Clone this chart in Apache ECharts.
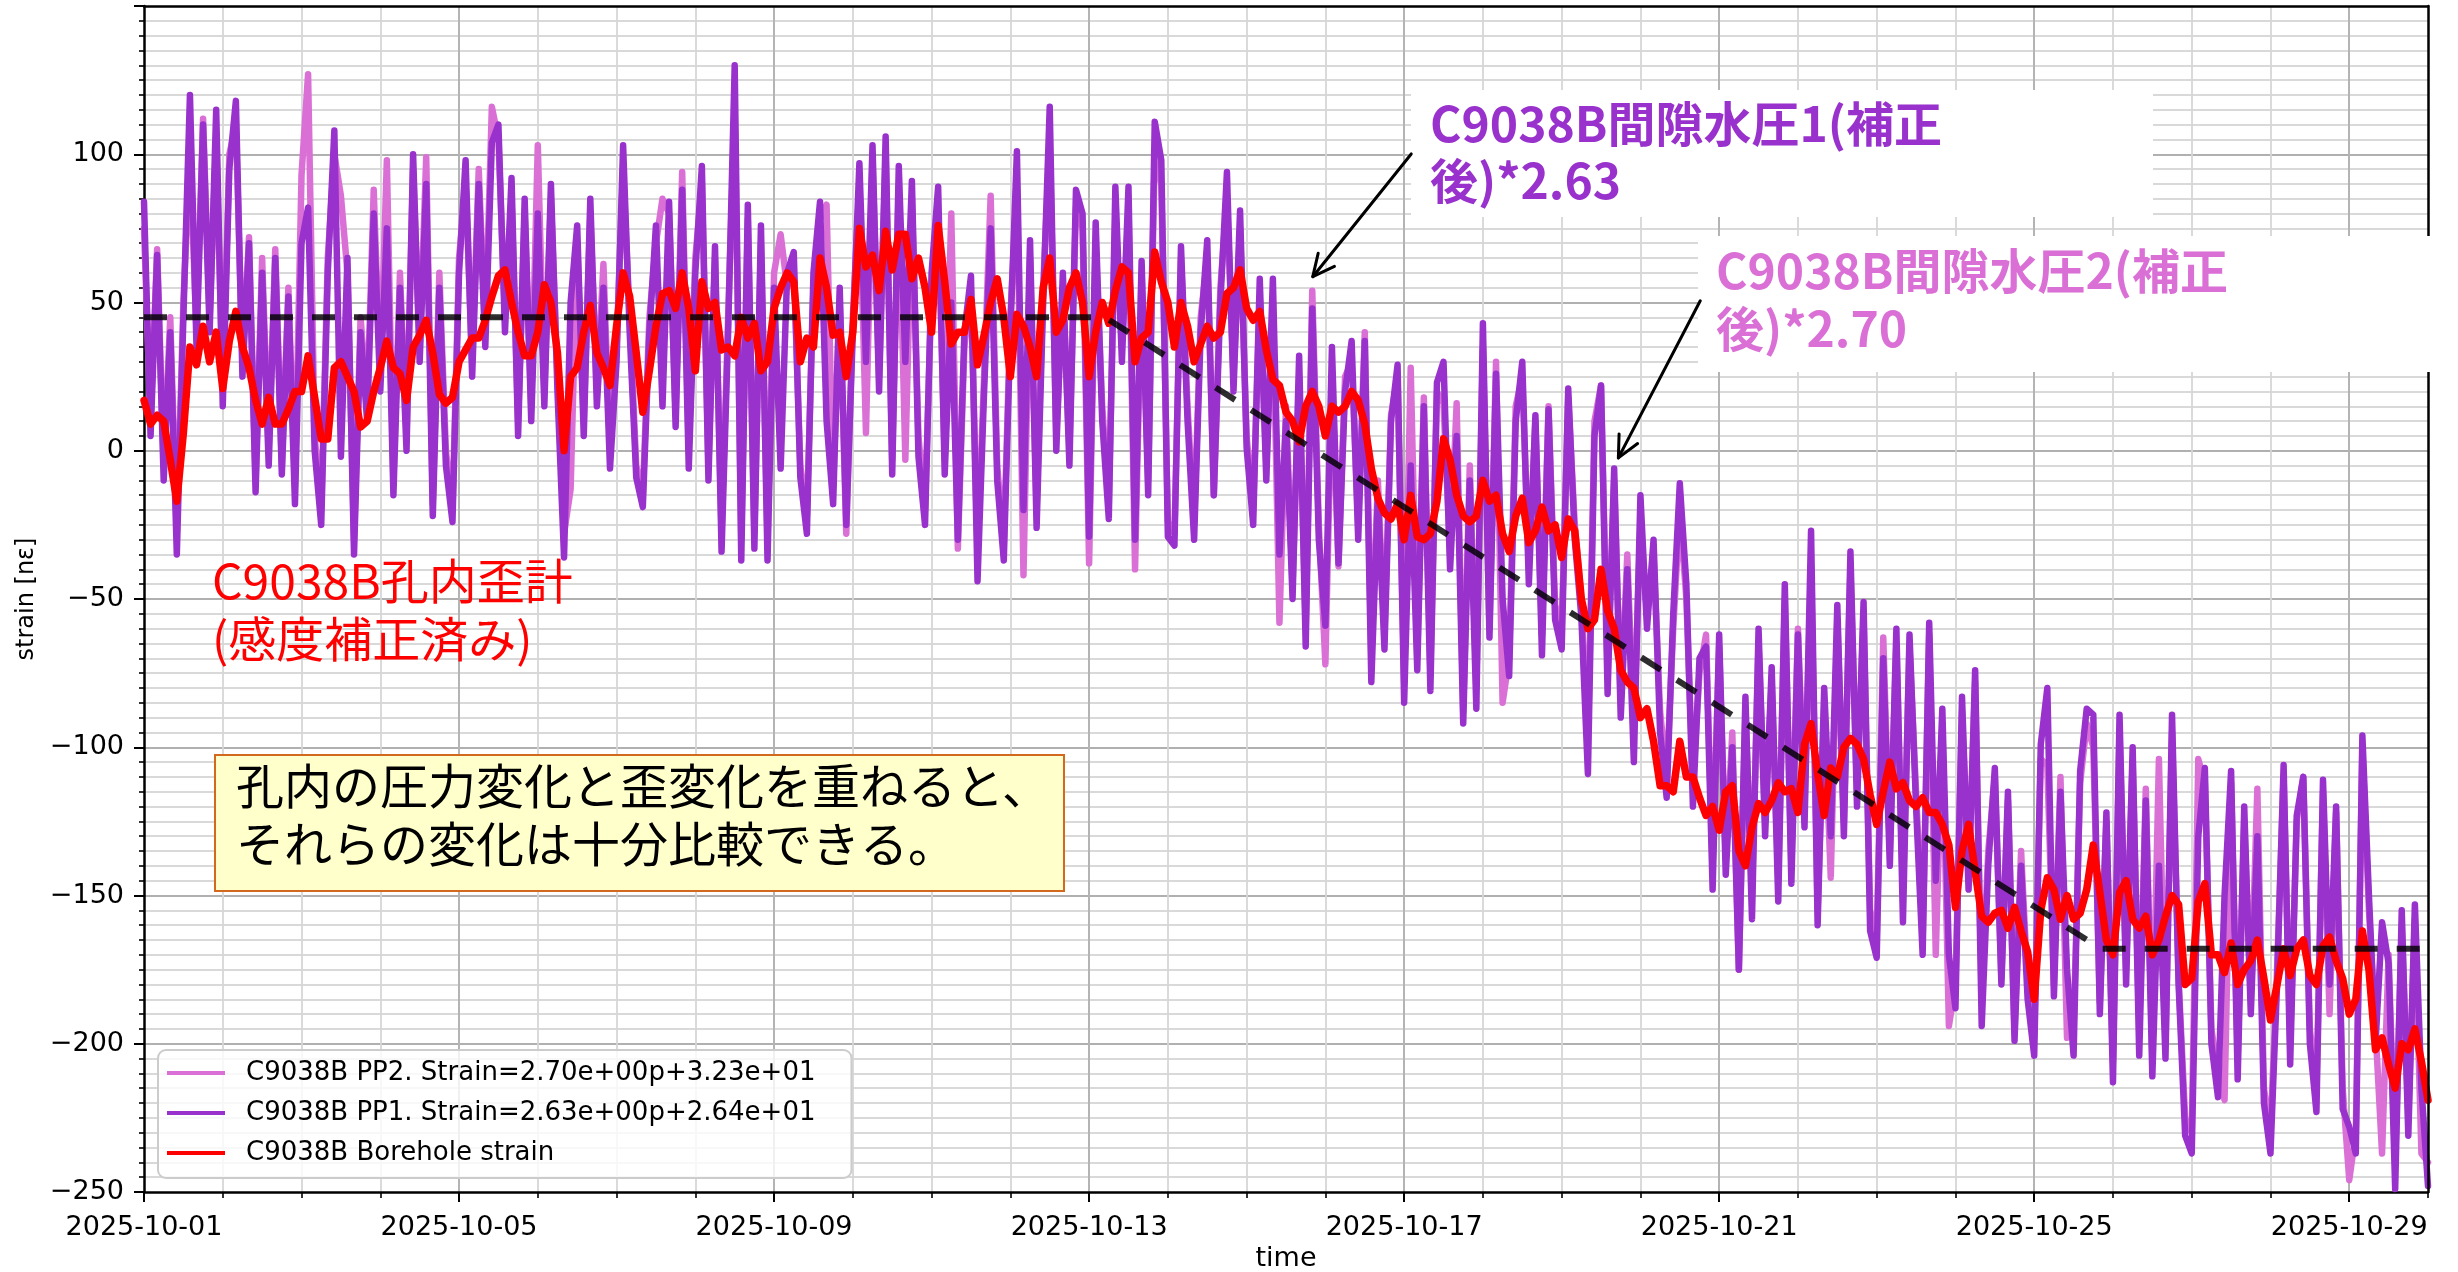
<!DOCTYPE html>
<html>
<head>
<meta charset="utf-8">
<script src="https://cdn.jsdelivr.net/npm/echarts@6/dist/echarts.min.js"></script>
<style>
html,body{margin:0;padding:0;background:#fff;}
#chart{width:2458px;height:1272px;}
</style>
</head>
<body>
<div id="chart"></div>
<script>
// ---- data ----
const START_UTC = Date.UTC(2025, 9, 1);   // 2025-10-01 00:00
const STEP_HOURS = 2;                      // sample spacing of the series below
const X_MAX_DAYS = 29;
const X_MAJOR_DAYS = 4;
const Y_MIN = -250, Y_MAX = 150, Y_STEP = 50;

const NAME_PP2 = 'C9038B PP2. Strain=2.70e+00p+3.23e+01';
const NAME_PP1 = 'C9038B PP1. Strain=2.63e+00p+2.64e+01';
const NAME_BH  = 'C9038B Borehole strain';

const boreholeStrain = [
17,9,12,10,-3,-17,6,35,29,42,30,40,21,37,47,35,28,17,9,18,9,9,14,20,20,32,18,4,4,28,30,25,20,8,10,20,28,37,28,26,17,35,39,44,33,19,16,18,30,34,38,38,44,52,59,61,50,40,32,32,
40,56,50,33,0,25,28,40,49,33,28,22,42,60,52,33,13,27,42,53,54,48,60,48,27,57,48,50,34,35,32,45,38,43,27,30,48,55,60,57,30,38,35,65,55,39,40,25,40,75,62,66,54,74,61,73,73,58,65,
55,40,76,57,36,40,40,51,29,39,50,58,45,25,46,42,35,25,55,65,40,44,55,60,50,25,40,50,43,54,62,60,30,38,40,67,57,50,35,50,42,30,36,42,38,40,53,55,61,48,44,47,34,24,22,13,10,3,15,
20,15,5,15,13,15,20,17,9,-6,-16,-21,-23,-18,-30,-15,-29,-30,-28,-17,4,-3,-15,-22,-24,-22,-10,-17,-15,-28,-34,-22,-16,-31,-27,-19,-27,-25,-36,-23,-27,-50,-60,-57,-40,-54,-60,-74,-78,-80,-90,-87,-98,-113,-113,-115,-98,-110,-110,-117,
-123,-120,-128,-115,-113,-135,-140,-127,-119,-122,-118,-112,-115,-114,-122,-99,-92,-109,-123,-107,-110,-100,-97,-99,-104,-116,-126,-115,-105,-114,-112,-118,-120,-117,-122,-122,-126,-133,-154,-135,-126,-142,-157,-159,-156,-155,-161,-154,-162,-169,-185,-155,-144,-148,-158,-150,-158,-156,-148,
-133,-149,-165,-170,-149,-145,-158,-161,-157,-170,-165,-157,-150,-153,-180,-178,-152,-146,-170,-170,-176,-166,-180,-175,-172,-165,-178,-192,-180,-168,-177,-168,-165,-177,-180,-167,-164,-172,-178,-190,-185,-162,-175,-202,-198,-207,-215,-200,-202,-195,-206,-219
];

const pp1Strain = [
84,5,66,-10,40,-35,45,120,35,110,40,115,15,95,118,25,70,-14,60,-5,65,-8,52,-18,70,82,0,-25,60,108,-2,65,-35,40,10,80,20,75,-15,55,0,100,30,90,-22,55,-5,-24,60,98,25,90,35,104,110,40,92,5,85,10,
80,15,90,20,-36,50,76,5,85,15,55,-6,30,103,40,-9,-19,40,76,15,84,8,88,-6,60,96,-10,69,-34,40,130,-37,83,-33,76,-37,55,-6,60,67,-9,-28,60,84,10,-18,55,-25,40,97,30,103,20,106,-8,96,30,91,-2,
-25,60,89,-8,50,-30,40,59,-44,20,75,-10,-37,40,101,-20,71,-26,50,116,0,60,-5,88,80,-29,77,10,-23,89,30,89,-30,64,-15,111,98,-29,-32,69,10,-30,40,71,-15,50,94,20,81,1,-25,58,-10,58,-35,10,-50,32,-66,
48,-30,-59,35,-38,20,37,-30,37,-78,-15,-67,10,29,-85,-5,-74,15,-81,23,30,-40,5,-92,-10,-87,43,-63,26,-50,-76,10,30,-45,12,-69,14,-57,-67,21,-30,-56,-109,5,22,-82,-6,-90,-40,-105,-15,-60,-30,-95,-117,-55,-11,-45,-120,-70,
-66,-148,-62,-143,-100,-175,-83,-158,-60,-130,-73,-152,-45,-146,-62,-127,-27,-160,-80,-130,-52,-130,-34,-120,-51,-162,-171,-70,-140,-60,-159,-62,-120,-170,-58,-145,-87,-170,-188,-83,-148,-74,-194,-140,-107,-180,-115,-199,-140,-185,-204,-99,-80,-184,-115,-175,-204,-108,-87,
-89,-190,-122,-213,-89,-180,-100,-204,-118,-211,-140,-205,-89,-180,-231,-237,-130,-107,-200,-218,-150,-108,-212,-120,-190,-130,-220,-237,-180,-106,-207,-123,-110,-200,-223,-111,-180,-120,-222,-228,-237,-96,-150,-200,-159,-173,-249,-155,-231,-153,-215,-248
];

const pp2Strain = [
75,10,68,-5,45,-28,50,100,40,112,45,105,20,100,110,30,72,-10,65,0,68,-5,55,-12,93,127,5,-20,65,100,86,60,-30,45,15,88,25,98,-10,60,5,95,35,99,-18,60,0,-20,65,90,30,95,40,116,105,45,85,10,80,15,
103,20,85,25,-28,-13,70,10,80,20,63,0,35,95,45,-5,-15,45,70,85,80,12,94,0,65,90,-5,65,-28,45,115,-30,78,-28,70,-30,60,73,55,62,-5,-22,55,78,83,-12,50,-28,45,90,6,98,25,100,-3,90,-3,85,5,
-20,55,80,-3,80,-33,35,55,-35,25,86,-5,-32,45,90,-42,65,-20,55,105,5,55,0,82,75,-38,70,15,-18,80,35,82,-40,60,-10,100,90,-24,-28,65,15,-25,45,65,-15,55,85,25,75,5,-20,52,-5,50,-58,15,-45,25,-60,
54,-25,-72,25,-39,25,30,-25,40,-70,-10,-62,12,25,-78,28,-70,18,-75,20,16,-35,16,-88,-5,-80,35,-60,30,-85,-70,15,25,-40,10,-62,15,-52,-60,18,-25,-50,-100,10,22,-75,-10,-85,-35,-95,-24,-55,-35,-88,-110,-60,-20,-50,-112,-75,
-62,-140,-66,-138,-95,-175,-88,-150,-65,-125,-78,-145,-50,-140,-60,-120,-40,-155,-85,-144,-57,-125,-40,-115,-56,-155,-165,-63,-135,-65,-150,-66,-115,-165,-62,-170,-92,-194,-180,-88,-145,-78,-185,-135,-110,-178,-118,-196,-135,-180,-198,-104,-106,-180,-110,-198,-195,-112,-92,
-100,-186,-125,-206,-95,-175,-105,-196,-114,-205,-104,-200,-95,-178,-225,-230,-104,-112,-195,-210,-219,-112,-205,-125,-185,-114,-215,-230,-175,-110,-200,-125,-110,-195,-215,-115,-190,-122,-215,-246,-230,-100,-155,-195,-237,-170,-240,-160,-225,-158,-237,-240
];

// dashed trend guide: [day offset, strain]
const trendDays   = [0, 12.2, 24.85, 29];
const trendValues = [45, 45, -168, -168];

// annotation arrows in data units [day offset, strain]
const arrow1 = { from: [16.09, 100.1], to: [14.84, 58.7] };
const arrow2 = { from: [19.76, 50.6],  to: [18.72, -2.4] };

// ---- build ----
const toXY = arr => arr.map((v, i) => [i * STEP_HOURS / 24, v]);
const pad2 = n => (n < 10 ? '0' : '') + n;
function dayLabel(v) {
  const d = new Date(START_UTC + v * 86400000);
  return d.getUTCFullYear() + '-' + pad2(d.getUTCMonth() + 1) + '-' + pad2(d.getUTCDate());
}
const FONT = 'DejaVu Sans';
const JP = '"Noto Sans CJK JP"';

const chart = echarts.init(document.getElementById('chart'), null, { renderer: 'canvas' });

const lineBase = { type: 'line', showSymbol: false, symbol: 'none', animation: false, xAxisIndex: 1, yAxisIndex: 0, clip: true };

chart.setOption({
  backgroundColor: '#ffffff',
  animation: false,
  textStyle: { fontFamily: FONT },
  grid: { left: 144, right: 30, top: 6, bottom: 80, outerBoundsMode: 'none', containLabel: false },
  legend: {
    orient: 'vertical', left: 158, top: 1050,
    data: [NAME_PP2, NAME_PP1, NAME_BH],
    icon: 'rect', itemWidth: 58, itemHeight: 4, itemGap: 10,
    padding: [8, 36, 10, 9],
    backgroundColor: 'rgba(255,255,255,0.8)', borderColor: '#cccccc', borderWidth: 2, borderRadius: 8,
    textStyle: { fontFamily: FONT, fontSize: 26, color: '#000', lineHeight: 30, padding: [0, 0, 0, 16] }
  },
  xAxis: [
    { // daily minor ticks + light gridlines
      type: 'value', position: 'bottom', min: 0, max: X_MAX_DAYS, interval: 1,
      axisLine: { show: false, onZero: false }, axisLabel: { show: false },
      axisTick: { show: true, inside: false, length: 6, lineStyle: { color: '#000', width: 1.6 } },
      splitLine: { show: true, showMinLine: false, showMaxLine: false, lineStyle: { color: '#d6d6d6', width: 1.8 } }
    },
    { // labelled major axis every 4 days
      type: 'value', position: 'bottom', min: 0, max: X_MAX_DAYS, interval: X_MAJOR_DAYS,
      name: 'time', nameLocation: 'middle', nameGap: 52,
      nameTextStyle: { fontFamily: FONT, fontSize: 27, color: '#000' },
      axisLine: { show: true, onZero: false, lineStyle: { color: '#000', width: 2.5 } },
      axisTick: { show: true, inside: false, length: 10, lineStyle: { color: '#000', width: 2 } },
      axisLabel: { show: true, margin: 22, fontFamily: FONT, fontSize: 27, color: '#000', showMaxLabel: false, formatter: dayLabel },
      splitLine: { show: true, showMinLine: false, showMaxLine: false, lineStyle: { color: '#b0b0b0', width: 1.8 } }
    },
    { // top frame
      type: 'value', position: 'top', min: 0, max: X_MAX_DAYS, z: 5,
      axisLine: { show: true, onZero: false, lineStyle: { color: '#000', width: 2.5 } },
      axisTick: { show: false }, axisLabel: { show: false }, splitLine: { show: false }
    }
  ],
  yAxis: [
    {
      type: 'value', position: 'left', min: Y_MIN, max: Y_MAX, interval: Y_STEP,
      name: 'strain [nε]', nameLocation: 'middle', nameGap: 104, nameRotate: 90,
      nameTextStyle: { fontFamily: FONT, fontSize: 24, color: '#000' },
      axisLine: { show: true, onZero: false, lineStyle: { color: '#000', width: 2.5 } },
      axisTick: { show: true, inside: false, length: 10, lineStyle: { color: '#000', width: 2 } },
      minorTick: { show: true, splitNumber: 10, length: 5, lineStyle: { color: '#000', width: 1.6 } },
      axisLabel: { show: true, margin: 20, fontFamily: FONT, fontSize: 27, color: '#000', showMaxLabel: false,
        formatter: v => String(v).replace('-', '\u2212') },
      splitLine: { show: true, showMinLine: false, showMaxLine: false, lineStyle: { color: '#b0b0b0', width: 1.8 } },
      minorSplitLine: { show: true, lineStyle: { color: '#d9d9d9', width: 1.8 } }
    },
    { // right frame
      type: 'value', position: 'right', min: Y_MIN, max: Y_MAX, z: 5,
      axisLine: { show: true, onZero: false, lineStyle: { color: '#000', width: 2.5 } },
      axisTick: { show: false }, axisLabel: { show: false }, splitLine: { show: false }
    }
  ],
  series: [
    Object.assign({}, lineBase, { name: NAME_PP2, data: toXY(pp2Strain), color: '#DA70D6',
      lineStyle: { color: '#DA70D6', width: 6.5, join: 'round', cap: 'round' } }),
    Object.assign({}, lineBase, { name: NAME_PP1, data: toXY(pp1Strain), color: '#9932CC',
      lineStyle: { color: '#9932CC', width: 6.5, join: 'round', cap: 'round' } }),
    Object.assign({}, lineBase, { name: NAME_BH, data: toXY(boreholeStrain), color: '#FF0000',
      lineStyle: { color: '#FF0000', width: 7.5, join: 'round', cap: 'round' } }),
    Object.assign({}, lineBase, { name: 'trend', data: trendDays.map((d, i) => [d, trendValues[i]]),
      color: 'rgba(0,0,0,0.8)', silent: true,
      lineStyle: { color: 'rgba(0,0,0,0.82)', width: 6, type: [23, 19], cap: 'butt' } })
  ]
});

// ---- annotations ----
function arrowEls(a) {
  const p0 = chart.convertToPixel({ xAxisIndex: 1, yAxisIndex: 0 }, a.from);
  const p1 = chart.convertToPixel({ xAxisIndex: 1, yAxisIndex: 0 }, a.to);
  const ang = Math.atan2(p0[1] - p1[1], p0[0] - p1[0]);
  const L = 24, da = 0.45;
  const h1 = [p1[0] + L * Math.cos(ang + da), p1[1] + L * Math.sin(ang + da)];
  const h2 = [p1[0] + L * Math.cos(ang - da), p1[1] + L * Math.sin(ang - da)];
  const st = { stroke: '#000', lineWidth: 3, lineCap: 'round', lineJoin: 'round', fill: null };
  return [
    { type: 'line', z: 12, shape: { x1: p0[0], y1: p0[1], x2: p1[0], y2: p1[1] }, style: st },
    { type: 'polyline', z: 12, shape: { points: [h1, p1, h2] }, style: st }
  ];
}

const textEls = [
  { type: 'rect', z: 10, shape: { x: 1411, y: 90, width: 742, height: 127 }, style: { fill: '#ffffff' } },
  { type: 'text', z: 11, x: 1430, y: 95, style: { text: 'C9038B間隙水圧1(補正\n後)*2.63',
      font: 'bold 48px ' + JP, fill: '#9932CC', lineHeight: 57, align: 'left', verticalAlign: 'top' } },
  { type: 'rect', z: 10, shape: { x: 1698, y: 236, width: 760, height: 136 }, style: { fill: '#ffffff' } },
  { type: 'text', z: 11, x: 1716, y: 242, style: { text: 'C9038B間隙水圧2(補正\n後)*2.70',
      font: 'bold 48px ' + JP, fill: '#DA70D6', lineHeight: 58, align: 'left', verticalAlign: 'top' } },
  { type: 'text', z: 11, x: 212, y: 552, style: { text: 'C9038B孔内歪計\n(感度補正済み)',
      font: '48px ' + JP, fill: '#FF0000', lineHeight: 58, align: 'left', verticalAlign: 'top' } },
  { type: 'rect', z: 10, shape: { x: 215, y: 755, width: 849, height: 136 },
    style: { fill: '#FFFFCC', stroke: '#D2691E', lineWidth: 2 } },
  { type: 'text', z: 11, x: 236, y: 757, style: { text: '孔内の圧力変化と歪変化を重ねると、\nそれらの変化は十分比較できる。',
      font: '48px ' + JP, fill: '#000000', lineHeight: 58, align: 'left', verticalAlign: 'top' } }
];

chart.setOption({ graphic: { elements: textEls.concat(arrowEls(arrow1), arrowEls(arrow2)) } });
</script>
</body>
</html>
